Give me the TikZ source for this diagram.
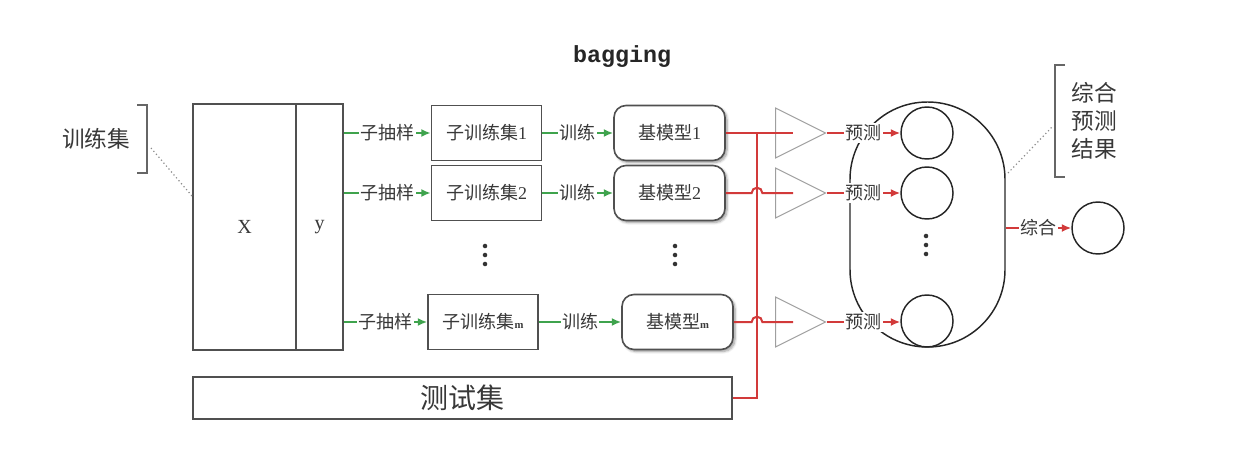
\documentclass[tikz,border=0pt]{standalone}
\usepackage{fontspec}
\setmainfont{Liberation Serif}
\setmonofont{Liberation Mono}
\newfontfamily\cjk{Noto Sans CJK SC}
\usepackage{tikz}
\usetikzlibrary{shapes.geometric, arrows.meta, positioning, calc, shadows.blur}

\definecolor{boxgray}{HTML}{505050}
\definecolor{txtgray}{HTML}{383838}
\definecolor{arrgreen}{HTML}{3FA34D}
\definecolor{arrred}{HTML}{D23A3A}

\newcommand{\dotcol}[1]{\foreach \dy in {-9,0,9} \fill[black!80] ($(#1)+(0,\dy)$) circle (1.7pt);}

\begin{document}
\begin{tikzpicture}[
        x=0.75pt, y=-0.75pt,
        databox/.style={
            rectangle, draw=boxgray, line width=1.2pt, fill=white,
            minimum width=82.5pt, minimum height=41.25pt,
            font=\fontsize{13.5}{15}\selectfont\cjk, text=txtgray, inner sep=0pt
        },
        modelbox/.style={
            databox, minimum width=83.25pt, rounded corners=9pt,
            blur shadow={shadow xshift=1.5pt, shadow yshift=-1.5pt, shadow blur steps=6, shadow opacity=40}
        },
        tri/.style={
            isosceles triangle, isosceles triangle stretches, draw=gray!75, line width=0.8pt,
            minimum width=37.5pt, minimum height=37.5pt, inner sep=0pt, anchor=lower side
        },
        result/.style={
            circle, draw=black!85, line width=1.1pt, minimum size=39pt, inner sep=0pt
        },
        fitarrow/.style={
            line width=1.5pt, draw=arrgreen, -{Latex[length=7pt, width=6pt]}
        },
        predline/.style={
            line width=1.5pt, draw=arrred
        },
        predarrow/.style={
            predline, -{Latex[length=7pt, width=6pt]}
        },
        label/.style={
            font=\fontsize{13.5}{15}\selectfont\cjk, text=txtgray, fill=white, inner sep=1pt
        },
        brk/.style={
            line width=1.3pt, draw=black!60
        },
        pointer/.style={
            dotted, line width=0.9pt, draw=black!45
        }
    ]
        \useasboundingbox (0,0) rectangle (1234,464);

        % ----------------------------------------------------
        % TITLE
        % ----------------------------------------------------
        \node[font=\fontsize{17.5}{20}\selectfont\ttfamily\bfseries, text=black!85] (title) at (622,57) {bagging};

        % ----------------------------------------------------
        % LEFT: training data X | y
        % ----------------------------------------------------
        \node[databox, minimum width=77.25pt, minimum height=184.5pt, font=\fontsize{15}{17}\selectfont] (xcol) at (244.5,227) {X};
        \node[databox, minimum width=35.25pt, minimum height=184.5pt, font=\fontsize{15}{17}\selectfont] (ycol) at (319.5,227) {y};

        \node[font=\fontsize{17}{19}\selectfont\cjk, text=txtgray] (trainset) at (96,139) {训练集};
        \draw[brk] (137,105) -- (147,105) -- (147,173) -- (137,173);
        \coordinate (trainptr) at (151,148);
        \coordinate (xcolptr) at (192,196);
        \draw[pointer] (trainptr) -- (xcolptr);

        % ----------------------------------------------------
        % SUB-SAMPLES AND BASE MODELS
        % ----------------------------------------------------
        \node[databox] (sub1) at (486.5,133) {子训练集{\rmfamily 1}};
        \node[databox] (sub2) at (486.5,193) {子训练集{\rmfamily 2}};
        \node[databox] (subm) at (483,322) {子训练集{\rmfamily\footnotesize\bfseries m}};
        \coordinate (subdots) at (485,255);
        \dotcol{subdots}

        \node[modelbox] (model1) at (669.5,133) {基模型{\rmfamily 1}};
        \node[modelbox] (model2) at (669.5,193) {基模型{\rmfamily 2}};
        \node[modelbox] (modelm) at (677.5,322) {基模型{\rmfamily\footnotesize\bfseries m}};
        \coordinate (modeldots) at (675,255);
        \dotcol{modeldots}

        \foreach \r in {1,2,m} {
            \draw[fitarrow] (ycol.east |- sub\r.west) -- (sub\r.west) node[midway, label] {子抽样};
            \draw[fitarrow] (sub\r.east) -- (model\r.west |- sub\r.east) node[midway, label] {训练};
        }

        % ----------------------------------------------------
        % BOTTOM: test set
        % ----------------------------------------------------
        \node[databox, minimum width=404.25pt, minimum height=31.5pt, font=\fontsize{21}{23}\selectfont\cjk] (test) at (462.5,398) {测试集};

        % ----------------------------------------------------
        % PREDICTION
        % ----------------------------------------------------
        \node[tri] (tri1) at (775,133) {};
        \node[tri] (tri2) at (775,193) {};
        \node[tri] (trim) at (775,322) {};
        \foreach \r in {1,2,m} \coordinate (in\r) at ($(tri\r.lower side)+(13.5pt,0)$);

        \coordinate (bus) at (757,133);
        \draw[predline] (model1.east) -- (in1);
        \draw[predline] (model2.east) -- ($(bus |- model2.east)+(-4pt,0)$) arc[start angle=180, end angle=0, radius=4pt] -- (in2);
        \draw[predline] (modelm.east) -- ($(bus |- modelm.east)+(-4pt,0)$) arc[start angle=180, end angle=0, radius=4pt] -- (inm);
        \draw[predline] (test.east) -| (bus);

        \node[rectangle, draw=black!85, line width=1.1pt, minimum width=116.25pt, minimum height=183.75pt, rounded corners=58pt] (pool) at (927.5,224.5) {};
        \node[result] (res1) at (927,133) {};
        \node[result] (res2) at (927,193) {};
        \node[result] (resm) at (927,321) {};
        \coordinate (resdots) at (926,245);
        \dotcol{resdots}

        \draw[predarrow] (tri1.apex) -- (res1.west) node[midway, label] {预测};
        \draw[predarrow] (tri2.apex) -- (res2.west) node[midway, label] {预测};
        \draw[predarrow] (trim.apex) -- (resm.west |- trim.apex) node[midway, label] {预测};

        % ----------------------------------------------------
        % RIGHT: combined result
        % ----------------------------------------------------
        \node[result] (final) at (1098,228) {};
        \draw[predarrow] (pool.east |- final.west) -- (final.west) node[midway, label] {综合};

        \node[font=\fontsize{17}{21}\selectfont\cjk, text=txtgray, align=center] (poolnote) at (1094,121) {综合\\预测\\结果};
        \draw[brk] (1065,65) -- (1055,65) -- (1055,177) -- (1065,177);
        \coordinate (poolptr) at (1008,173);
        \coordinate (noteptr) at (1052,127);
        \draw[pointer] (poolptr) -- (noteptr);

    \end{tikzpicture}
\end{document}
